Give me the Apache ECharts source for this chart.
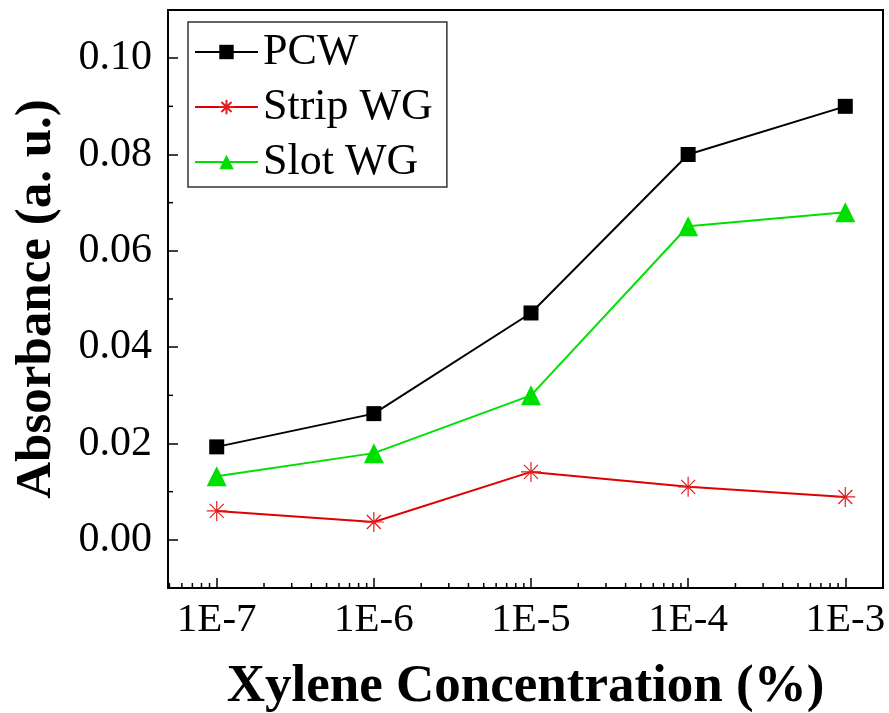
<!DOCTYPE html>
<html>
	<head>
		<meta charset="UTF-8">
		<title></title>
		<script type="text/javascript" src="https://cdn.jsdelivr.net/npm/echarts@6/dist/echarts.min.js"></script>
	</head>
	<body style="margin:0">
		<div id="main" style="height:713px;width:889px"></div>
	</body>
</html>
<script>
    // 浓度 (%) 与三组吸光度
    var concentrations = [1e-7, 1e-6, 1e-5, 1e-4, 1e-3];
    var pcw = [0.0193, 0.0262, 0.0471, 0.0800, 0.0900];
    var strip = [0.0060, 0.0037, 0.0141, 0.0110, 0.0089];
    var slot = [0.0132, 0.0180, 0.0300, 0.0651, 0.0680];

    // 坐标范围 (x 用 log10 指数)
    var xMin = -7.31, xMax = -2.76;
    var yMin = -0.01, yMax = 0.11;
    // 次刻度
    var xMinorMult = [2, 3, 4, 5, 6, 7, 8, 9];
    var xDecades = [-8, -7, -6, -5, -4, -3];
    var yMinorTicks = [0.01, 0.03, 0.05, 0.07, 0.09];

    var xMinorTicks = [];
    xDecades.forEach(function (d) {
        xMinorMult.forEach(function (m) {
            var v = d + Math.log10(m);
            if (v > xMin && v < xMax) xMinorTicks.push(v);
        });
    });

    function pairs(ys) {
        return concentrations.map(function (c, i) { return [Math.log10(c), ys[i]]; });
    }

    var serif = 'Liberation Serif';
    var asterisk = 'path://M0,-10L0,10M-10,0L10,0M-7,-7L7,7M-7,7L7,-7';

    var myChart = echarts.init(document.getElementById("main"));
    var option = {
        animation: false,
        grid: {
            left: 168, top: 10, right: 6, bottom: 125,
            containLabel: false,
            outerBoundsMode: 'none',
            show: true, borderColor: '#000', borderWidth: 2
        },
        legend: {
            orient: 'vertical',
            left: 188, top: 22,
            padding: [8, 14, 3, 6],
            itemWidth: 63, itemHeight: 18, itemGap: 11,
            borderColor: '#333', borderWidth: 1.5,
            textStyle: { fontFamily: serif, fontSize: 44, color: '#000', lineHeight: 44 },
            data: ['PCW', 'Strip WG', 'Slot WG']
        },
        xAxis: {
            type: 'value',
            min: xMin, max: xMax,
            name: 'Xylene Concentration (%)',
            nameLocation: 'middle',
            nameGap: 73,
            nameTextStyle: { fontFamily: serif, fontSize: 53, fontWeight: 'bold', color: '#000' },
            axisLine: { onZero: false, lineStyle: { color: '#000', width: 2 } },
            axisTick: { inside: true, length: 10, lineStyle: { color: '#000', width: 1.5 } },
            splitLine: { show: false },
            axisLabel: {
                margin: 12,
                fontFamily: serif, fontSize: 41, color: '#000',
                formatter: function (v) {
                    return Math.abs(v - Math.round(v)) < 1e-6 ? '1E' + Math.round(v) : '';
                }
            }
        },
        yAxis: {
            type: 'value',
            min: yMin, max: yMax,
            name: 'Absorbance (a. u.)',
            nameLocation: 'middle',
            nameGap: 106,
            nameTextStyle: { fontFamily: serif, fontSize: 51, fontWeight: 'bold', color: '#000' },
            axisLine: { onZero: false, lineStyle: { color: '#000', width: 2 } },
            axisTick: { inside: true, length: 10, lineStyle: { color: '#000', width: 1.5 } },
            splitLine: { show: false },
            axisLabel: {
                margin: 16,
                fontFamily: serif, fontSize: 42, color: '#000',
                formatter: function (v) {
                    var k = Math.round(v * 100);
                    return (Math.abs(v * 100 - k) < 1e-6 && k % 2 === 0 && k >= 0 && k <= 10) ? v.toFixed(2) : '';
                }
            }
        },
        series: [{
            name: 'PCW',
            type: 'line',
            data: pairs(pcw),
            symbol: 'rect',
            symbolSize: 15,
            lineStyle: { color: '#000', width: 2 },
            itemStyle: { color: '#000' }
        }, {
            name: 'Strip WG',
            type: 'line',
            data: pairs(strip),
            symbol: asterisk,
            symbolSize: 20,
            lineStyle: { color: '#e00000', width: 2 },
            itemStyle: { color: 'none', borderColor: '#e02020', borderWidth: 1.2 }
        }, {
            name: 'Slot WG',
            type: 'line',
            data: pairs(slot),
            symbol: 'triangle',
            symbolSize: 20,
            lineStyle: { color: '#00e000', width: 2 },
            itemStyle: { color: '#00e000' }
        }, {
            // x 轴次刻度
            type: 'custom',
            silent: true,
            data: xMinorTicks.map(function (v) { return [v, yMin]; }),
            renderItem: function (params, api) {
                var p = api.coord([api.value(0), api.value(1)]);
                return { type: 'line', shape: { x1: p[0], y1: p[1], x2: p[0], y2: p[1] - 5 },
                    style: { stroke: '#000', lineWidth: 1.5 } };
            }
        }, {
            // y 轴次刻度
            type: 'custom',
            silent: true,
            data: yMinorTicks.map(function (v) { return [xMin, v]; }),
            renderItem: function (params, api) {
                var p = api.coord([api.value(0), api.value(1)]);
                return { type: 'line', shape: { x1: p[0], y1: p[1], x2: p[0] + 5, y2: p[1] },
                    style: { stroke: '#000', lineWidth: 1.5 } };
            }
        }]
    };

    myChart.setOption(option);
</script>
